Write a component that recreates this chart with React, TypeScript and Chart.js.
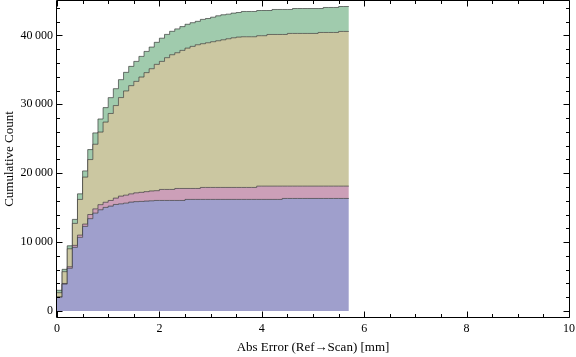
import { useEffect, useRef } from 'react';
import { Chart, registerables } from 'chart.js';

Chart.register(...registerables);

const FONT = '"Liberation Serif", "Times New Roman", serif';

// bin edges of the cumulative histogram (width 0.1 mm)
const binEdges = [
  0, 0.1, 0.2, 0.3, 0.4, 0.5, 0.6, 0.7, 0.8, 0.9,
  1.0, 1.1, 1.2, 1.3, 1.4, 1.5, 1.6, 1.7, 1.8, 1.9,
  2.0, 2.1, 2.2, 2.3, 2.4, 2.5, 2.6, 2.7, 2.8, 2.9,
  3.0, 3.1, 3.2, 3.3, 3.4, 3.5, 3.6, 3.7, 3.8, 3.9,
  4.0, 4.1, 4.2, 4.3, 4.4, 4.5, 4.6, 4.7, 4.8, 4.9,
  5.0, 5.1, 5.2, 5.3, 5.4, 5.5, 5.6, 5.7,
];

// stacked cumulative counts (top of each layer), one per bin
const blueTop = [
  2000, 3900, 6190, 9230, 10680, 12270, 13400, 14200, 14690, 15030,
  15220, 15460, 15550, 15650, 15800, 15870, 15900, 15950, 15990, 16040,
  16040, 16040, 16040, 16040, 16040, 16190, 16190, 16190, 16190, 16190,
  16190, 16190, 16190, 16190, 16190, 16190, 16190, 16190, 16190, 16190,
  16190, 16190, 16190, 16190, 16330, 16330, 16330, 16330, 16330, 16330,
  16330, 16330, 16330, 16330, 16330, 16330, 16330,
];
const pinkTop = [
  2030, 3990, 6420, 9520, 11010, 12610, 14000, 14820, 15430, 15780,
  16040, 16380, 16670, 16810, 17000, 17150, 17220, 17320, 17420, 17460,
  17640, 17640, 17640, 17780, 17780, 17780, 17780, 17780, 17930, 17930,
  17930, 17930, 17930, 17930, 17930, 17930, 17930, 17930, 17930, 18120,
  18120, 18120, 18120, 18120, 18120, 18120, 18120, 18120, 18120, 18120,
  18120, 18120, 18120, 18120, 18120, 18120, 18120,
];
const oliveTop = [
  2650, 5700, 9030, 12710, 16190, 19430, 21980, 24200, 25970, 27420,
  28670, 29820, 30980, 31940, 32710, 33330, 33960, 34600, 35170, 35800,
  36230, 36770, 37200, 37490, 37830, 38160, 38410, 38650, 38800, 38940,
  39090, 39230, 39370, 39520, 39660, 39760, 39810, 39810, 39810, 39960,
  39960, 40140, 40140, 40140, 40140, 40290, 40290, 40290, 40290, 40290,
  40290, 40430, 40430, 40430, 40430, 40580, 40580,
];
const greenTop = [
  3000, 6040, 9460, 13290, 17000, 20330, 23430, 25850, 27870, 29520,
  30970, 32270, 33580, 34640, 35510, 36230, 36960, 37680, 38310, 39000,
  39600, 40150, 40600, 40950, 41280, 41620, 41850, 42050, 42330, 42460,
  42650, 42850, 43000, 43090, 43240, 43330, 43480, 43480, 43480, 43620,
  43620, 43620, 43770, 43770, 43770, 43770, 43910, 43910, 43910, 43910,
  43910, 43910, 44060, 44060, 44060, 44200, 44200,
];

const xTicks = [0, 2, 4, 6, 8, 10];
const yTicks = [0, 10000, 20000, 30000, 40000];

const layerColors = [
  'rgb(159,159,204)',
  'rgb(204,159,184)',
  'rgb(203,199,161)',
  'rgb(160,203,173)',
];

function fmtY(v: number) {
  const s = String(Math.round(v));
  if (s.length <= 3) return s;
  return s.slice(0, s.length - 3) + '\u2009' + s.slice(s.length - 3);
}

const framePlugin = {
  id: 'frame',
  afterDraw(chart: any) {
    const { ctx, chartArea: a } = chart;
    const xs = chart.scales.x;
    const ys = chart.scales.y;
    const L = Math.round(a.left) - 0.5;
    const R = Math.round(a.right) + 0.5;
    const T = Math.round(a.top) - 0.5;
    const B = Math.round(a.bottom) + 0.5;
    ctx.save();
    ctx.strokeStyle = '#000';
    ctx.lineWidth = 1;
    ctx.beginPath();
    ctx.rect(L, T, R - L, B - T);
    ctx.stroke();
    ctx.beginPath();
    for (let k = 0; k <= 20; k++) {
      const v = k * 0.5;
      const major = k % 4 === 0;
      const len = major ? 6 : 3.5;
      const px = Math.round(xs.getPixelForValue(v)) + 0.5;
      ctx.moveTo(px, B);
      ctx.lineTo(px, B - len);
      ctx.moveTo(px, T);
      ctx.lineTo(px, T + len);
    }
    for (let k = 0; k <= 22; k++) {
      const v = k * 2000;
      const major = k % 5 === 0;
      const len = major ? 6 : 3.5;
      const py = Math.round(ys.getPixelForValue(v)) + 0.5;
      if (py < T || py > B) continue;
      ctx.moveTo(L, py);
      ctx.lineTo(L + len, py);
      ctx.moveTo(R, py);
      ctx.lineTo(R - len, py);
    }
    ctx.stroke();
    ctx.restore();
  },
};

export default function App() {
  const ref = useRef<HTMLCanvasElement>(null);

  useEffect(() => {
    document.body.style.margin = '0';
    const toPts = (tops: number[]) => [
      ...tops.map((v, i) => ({ x: binEdges[i], y: v })),
      { x: binEdges[tops.length], y: tops[tops.length - 1] },
    ];
    const layers = [blueTop, pinkTop, oliveTop, greenTop];
    const chart = new Chart(ref.current as HTMLCanvasElement, {
      type: 'line',
      data: {
        datasets: layers.map((tops, k) => ({
          label: 'Layer ' + (k + 1),
          data: toPts(tops),
          stepped: 'before' as const,
          fill: k === 0 ? 'origin' : '-1',
          backgroundColor: layerColors[k],
          borderColor: 'rgba(40,40,40,0.62)',
          borderWidth: 1,
          pointRadius: 0,
          pointHoverRadius: 0,
        })),
      },
      options: {
        animation: false,
        responsive: false,
        maintainAspectRatio: false,
        layout: { padding: { top: 1, right: 7, left: 0, bottom: 0 } },
        plugins: {
          legend: { display: false },
          tooltip: { enabled: false },
        },
        scales: {
          x: {
            type: 'linear',
            min: 0,
            max: 10,
            grid: { display: false, drawTicks: false },
            border: { display: false },
            afterBuildTicks: (s: any) => {
              s.ticks = xTicks.map((v) => ({ value: v }));
            },
            afterFit: (s: any) => {
              s.height = 40;
              s.paddingLeft = 0;
              s.paddingRight = 0;
            },
            ticks: {
              font: { family: FONT, size: 12 },
              color: '#000',
              padding: 5,
              maxRotation: 0,
              autoSkip: false,
              callback: (v: any) => String(v),
            },
            title: {
              display: true,
              text: 'Abs Error (Ref\u2192Scan) [mm]',
              font: { family: FONT, size: 13 },
              color: '#000',
              padding: { top: 0, bottom: 2 },
            },
          },
          y: {
            type: 'linear',
            min: -880,
            max: 45000,
            grid: { display: false, drawTicks: false },
            border: { display: false },
            afterBuildTicks: (s: any) => {
              s.ticks = yTicks.map((v) => ({ value: v }));
            },
            afterFit: (s: any) => {
              s.width = 57;
              s.paddingTop = 0;
              s.paddingBottom = 0;
            },
            ticks: {
              font: { family: FONT, size: 12 },
              color: '#000',
              padding: 4,
              autoSkip: false,
              callback: (v: any) => fmtY(Number(v)),
            },
            title: {
              display: true,
              text: 'Cumulative Count',
              font: { family: FONT, size: 13 },
              color: '#000',
              padding: { top: 2, bottom: 0 },
            },
          },
        },
      },
      plugins: [framePlugin],
    } as any);
    return () => chart.destroy();
  }, []);

  return (
    <div style={{ width: 576, height: 357 }}>
      <canvas ref={ref} width={576} height={357} style={{ display: 'block' }} />
    </div>
  );
}
